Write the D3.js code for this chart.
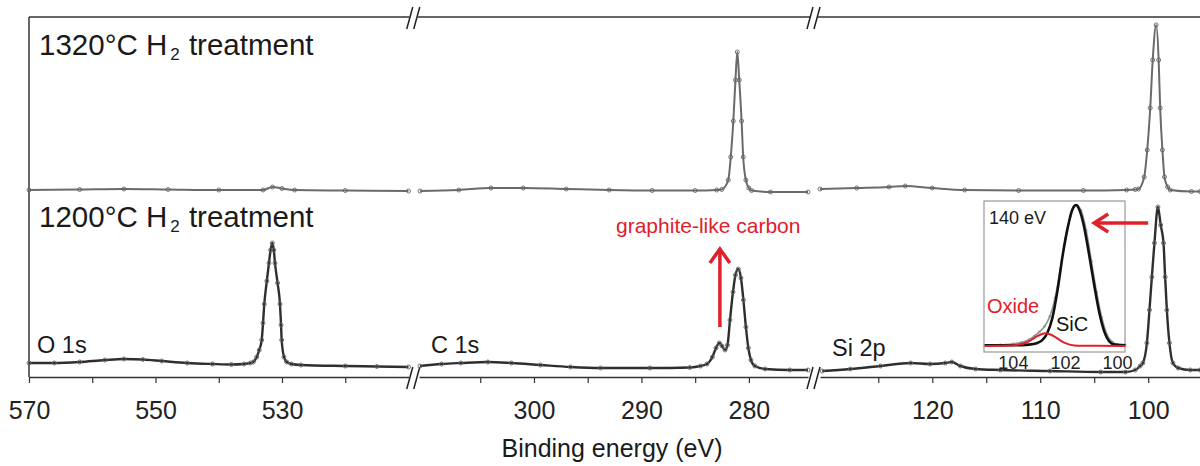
<!DOCTYPE html>
<html lang="en">
<head>
<meta charset="UTF-8">
<title>XPS spectra</title>
<script src="https://cdn.jsdelivr.net/npm/d3@7"></script>
<style>
  body { margin: 0; background: #fff; }
  text { font-family: Arial, "Liberation Sans", Helvetica, sans-serif; }
</style>
</head>
<body>
<svg width="1200" height="466"></svg>
<script>
// binding energy (eV), intensity (a.u.)
var o1s1200 = [[570,14],[566,14],[562,15],[558,17],[555,18],[552,17.5],[549,16],[545,14],[541,13],[538,12.5],
  [536,13],[535,14],[534.54,15],[534.0,20],[533.6,27],[533.21,37],[533.0,54],[532.8,73],[532.4,96],[532.06,114],
  [531.8,127],[531.53,134],[531.3,127],[531.11,114],[530.7,94],[530.32,73],[530.15,52],[530.05,37],[529.68,20],
  [529.26,15],[528.5,13],[527,12],[520,11],[515,10.5],[510,10]];
var o1s1320 = [[570,12],[562,12.5],[555,13],[548,12.5],[540,12],[533,12],[531.5,15],[530,13.5],[528,12],[520,11.5],[510,11]];

var c1s1200 = [[310.6,11],[308.6,13],[306.8,14],[304.3,15],[302.1,14],[299.4,12],[296.6,10],[293.8,9],[289.2,9],
  [285.5,9.5],[284.5,11],[283.9,13],[283.4,20],[283.06,29],[282.75,34],[282.5,31],[282.22,27],[281.99,32],
  [281.76,57],[281.48,85],[281.25,102],[280.99,108],[280.74,99],[280.51,77],[280.28,50],[280.05,29],[279.81,17],
  [279.44,11],[278.5,8],[276.2,7],[274.5,7]];
var c1s1320 = [[310.6,11],[307,12],[304,14],[301,14],[297,13],[293,12],[289,11.5],[285,11.5],[283,12],[282.53,12.5],
  [281.92,22],[281.69,45],[281.45,81],[281.25,122],[281.08,150],[280.9,122],[280.68,81],[280.53,45],[280.28,22],
  [280.0,14],[279.75,11.5],[278,10],[274.5,10]];

var si2p1200 = [[130.2,6],[127.6,8],[124.8,11],[122.0,14],[120.2,13],[118.8,14],[118.2,15],[117.4,11],[116.0,8],
  [113.7,7],[109.1,6],[104.4,5],[102.1,5],[101.2,7],[100.74,11],[100.49,14],[100.12,34],[99.88,67],[99.66,100],
  [99.42,134],[99.1,170],[98.84,152],[98.58,134],[98.43,100],[98.27,67],[98.03,34],[97.71,14],[97.22,9],[96.1,7],[95.2,7]];
var si2p1320 = [[130.4,13],[127,14],[124,15],[122.5,16],[120,14],[117,12],[112,11.5],[106,11.5],[102,12],[101.2,12.5],
  [100.9,13],[100.37,25],[100.09,52],[99.81,94],[99.58,142],[99.26,177],[99.03,142],[98.89,94],[98.68,52],
  [98.49,25],[98.2,15],[97.96,12],[96,10.5],[95.2,10.5]];

// inset: Si 2p at 140 eV photon energy, normalised
var insetData = [[105.1,0.5],[104.5,0.8],[104.0,1.5],[103.7,2.5],[103.4,4.5],[103.2,7],[103.0,10],[102.8,14],
  [102.6,21],[102.4,34],[102.2,54],[102.0,76],[101.8,92],[101.65,99],[101.55,100],[101.4,96],[101.2,82],
  [101.0,60],[100.8,38],[100.6,20],[100.4,8],[100.2,3],[100.0,1.2],[99.7,0.8]];
var insetSiC = [[105.1,0.5],[104.0,0.5],[103.4,1],[103.1,2],[102.9,4],[102.7,9],[102.5,20],[102.3,40],[102.1,65],
  [101.9,85],[101.75,96],[101.6,100],[101.45,96],[101.3,86],[101.1,66],[100.9,44],[100.7,24],[100.5,10],
  [100.3,3],[100.1,1],[99.7,0.5]];
var insetOxide = [[105.1,0],[104.2,0.3],[103.8,1],[103.5,2.5],[103.3,4.5],[103.1,6.8],[102.9,8.5],[102.8,9],
  [102.6,8.3],[102.4,6.5],[102.2,4],[102.0,2],[101.8,0.8],[101.5,0.2],[99.7,0]];

var o1sTicks = [570, 560, 550, 540, 530, 520];
var o1sLabels = [570, 550, 530];
var c1sTicks = [305, 300, 295, 290, 285, 280];
var c1sLabels = [300, 290, 280];
var si2pTicks = [125, 120, 115, 110, 105, 100];
var si2pLabels = [120, 110, 100];
var insetLabels = [104, 102, 100];

var svg = d3.select('svg');
var top0 = 17, bottom0 = 377, left0 = 29;
var offset = 175; // shift of the 1320 °C curve

var y = d3.scaleLinear().domain([0, 360]).range([bottom0, top0]);

var segments = [
  {domain: [570, 510], range: [29, 408.5], ticks: o1sTicks, labels: o1sLabels, low: o1s1200, high: o1s1320},
  {domain: [310.7, 274.5], range: [419, 808], ticks: c1sTicks, labels: c1sLabels, low: c1s1200, high: c1s1320},
  {domain: [130.4, 95.2], range: [820, 1200], ticks: si2pTicks, labels: si2pLabels, low: si2p1200, high: si2p1320}
];
segments.forEach(function(s) {
  s.x = d3.scaleLinear().domain(s.domain).range(s.range);
});

// frame
svg.append('line').attr('x1', left0).attr('x2', left0).attr('y1', top0).attr('y2', bottom0)
  .attr('stroke', '#333').attr('stroke-width', 1.5);

var breaks = [
  (segments[0].range[1] + segments[1].range[0]) / 2,
  (segments[1].range[1] + segments[2].range[0]) / 2
];
var topRuns = [[left0, breaks[0] - 4], [breaks[0] + 4, breaks[1] - 4], [breaks[1] + 4, 1200]];
topRuns.forEach(function(r) {
  svg.append('line').attr('x1', r[0]).attr('x2', r[1]).attr('y1', top0).attr('y2', top0)
    .attr('stroke', '#333').attr('stroke-width', 1.5);
});

segments.forEach(function(s) {
  var axis = d3.axisBottom(s.x)
    .tickValues(s.ticks)
    .tickSizeInner(6)
    .tickSizeOuter(0)
    .tickFormat(function(d) { return s.labels.indexOf(d) >= 0 ? d : ''; });
  var g = svg.append('g').attr('transform', 'translate(0,' + bottom0 + ')').call(axis);
  g.select('.domain').attr('stroke', '#333').attr('stroke-width', 1.5);
  g.selectAll('.tick line').attr('stroke', '#333').attr('stroke-width', 1.2);
  g.selectAll('.tick text').attr('y', 24).attr('font-size', 25).attr('fill', '#222')
    .style('font-family', 'Arial, "Liberation Sans", sans-serif');
});

// break marks
breaks.forEach(function(bx) {
  [top0 + 1, bottom0 + 1].forEach(function(by) {
    [-4, 3].forEach(function(dx) {
      svg.append('line')
        .attr('x1', bx + dx - 3).attr('y1', by + 11)
        .attr('x2', bx + dx + 3).attr('y2', by - 11)
        .attr('stroke', '#222').attr('stroke-width', 1.5);
    });
  });
});

// spectra
segments.forEach(function(s) {
  [{data: s.high, off: offset, color: '#6a6a6a', w: 2}, {data: s.low, off: 0, color: '#2e2e2e', w: 2.4}]
    .forEach(function(c) {
      var line = d3.line()
        .x(function(d) { return s.x(d[0]); })
        .y(function(d) { return y(d[1] + c.off); })
        .curve(d3.curveMonotoneX);
      svg.append('path').datum(c.data).attr('d', line)
        .attr('fill', 'none').attr('stroke', c.color).attr('stroke-width', c.w);
      svg.append('g').selectAll('circle').data(c.data).join('circle')
        .attr('cx', function(d) { return s.x(d[0]); })
        .attr('cy', function(d) { return y(d[1] + c.off); })
        .attr('r', 2)
        .attr('fill', 'none').attr('stroke', '#666').attr('stroke-width', 0.9);
    });
});

// titles and labels
function treatment(x, yy, temp) {
  var t = svg.append('text').attr('x', x).attr('y', yy).attr('font-size', 29.5).attr('fill', '#1a1a1a');
  t.append('tspan').text(temp + '\u00b0C H');
  t.append('tspan').attr('font-size', 17).attr('dy', 5).attr('dx', 3).text('2');
  t.append('tspan').attr('dy', -5).attr('dx', 1).text(' treatment');
}
treatment(39, 55, 1320);
treatment(39, 227, 1200);

svg.append('text').attr('x', 37).attr('y', 353).attr('font-size', 23.5).attr('fill', '#1a1a1a').text('O 1s');
svg.append('text').attr('x', 431).attr('y', 353).attr('font-size', 23.5).attr('fill', '#1a1a1a').text('C 1s');
svg.append('text').attr('x', 832).attr('y', 356).attr('font-size', 23.5).attr('fill', '#1a1a1a').text('Si 2p');

svg.append('text').attr('x', 612).attr('y', 457).attr('font-size', 25).attr('fill', '#1a1a1a')
  .attr('text-anchor', 'middle').text('Binding energy (eV)');

// graphite annotation
var red = '#e0202a';
var xc = segments[1].x;
svg.append('text').attr('x', 616).attr('y', 233).attr('font-size', 21).attr('fill', red).text('graphite-like carbon');
var ax = xc(282.7);
svg.append('line').attr('x1', ax).attr('x2', ax).attr('y1', 327).attr('y2', 250)
  .attr('stroke', red).attr('stroke-width', 3.5);
svg.append('path').attr('d', 'M' + (ax - 10) + ',263 L' + ax + ',249 L' + (ax + 10) + ',263')
  .attr('fill', 'none').attr('stroke', red).attr('stroke-width', 3.5);

// inset
var ix = d3.scaleLinear().domain([105.13, 99.71]).range([984, 1125]);
var iy = d3.scaleLinear().domain([0, 100]).range([346, 205]);
svg.append('rect').attr('x', 984).attr('y', 201).attr('width', 141).attr('height', 151)
  .attr('fill', '#fff').attr('stroke', '#999').attr('stroke-width', 1.2);

var iline = d3.line().x(function(d) { return ix(d[0]); }).y(function(d) { return iy(d[1]); })
  .curve(d3.curveMonotoneX);
svg.append('g').selectAll('circle').data(insetData).join('circle')
  .attr('cx', function(d) { return ix(d[0]); }).attr('cy', function(d) { return iy(d[1]); })
  .attr('r', 1.3).attr('fill', '#999');
svg.append('path').datum(insetData).attr('d', iline).attr('fill', 'none')
  .attr('stroke', '#8a9a90').attr('stroke-width', 1.6);
svg.append('path').datum(insetSiC).attr('d', iline).attr('fill', 'none')
  .attr('stroke', '#111').attr('stroke-width', 2.6);
svg.append('path').datum(insetOxide).attr('d', iline).attr('fill', 'none')
  .attr('stroke', red).attr('stroke-width', 2);

insetLabels.forEach(function(v) {
  svg.append('text').attr('x', ix(v)).attr('y', 369).attr('text-anchor', 'middle')
    .attr('font-size', 18).attr('fill', '#222').text(v);
});
svg.append('text').attr('x', 989).attr('y', 224).attr('font-size', 18).attr('fill', '#1a1a1a').text('140 eV');
svg.append('text').attr('x', 987).attr('y', 313).attr('font-size', 20).attr('fill', red).text('Oxide');
svg.append('text').attr('x', 1056).attr('y', 331).attr('font-size', 20).attr('fill', '#111').text('SiC');

// arrow pointing at the inset
var xs = segments[2].x;
var ay = 223;
svg.append('line').attr('x1', xs(100.0)).attr('x2', xs(105.0)).attr('y1', ay).attr('y2', ay)
  .attr('stroke', red).attr('stroke-width', 3.5);
svg.append('path').attr('d', 'M' + (xs(105.0) + 14) + ',' + (ay - 9) + ' L' + xs(105.0) + ',' + ay +
    ' L' + (xs(105.0) + 14) + ',' + (ay + 9))
  .attr('fill', 'none').attr('stroke', red).attr('stroke-width', 3.5);
</script>
</body>
</html>
